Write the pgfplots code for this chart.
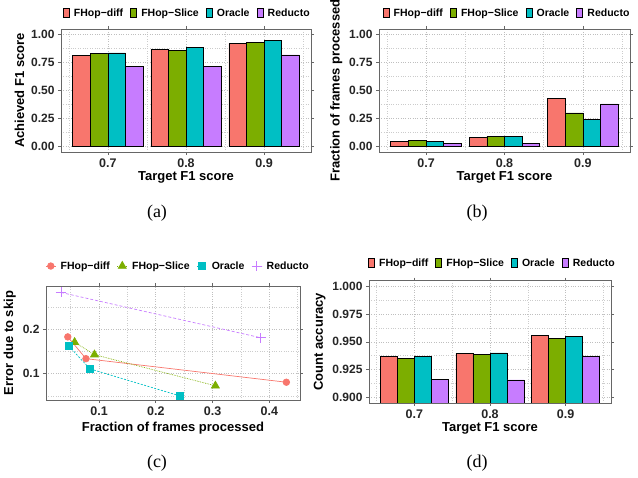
\documentclass[border=0pt]{standalone}
\usepackage{pgfplots}
\pgfplotsset{compat=1.18}
\usepackage{fontspec}
\setmainfont{Liberation Sans}
\newfontfamily\capfont{Liberation Serif}
\definecolor{cR}{HTML}{F8766D}
\definecolor{cG}{HTML}{7CAE00}
\definecolor{cB}{HTML}{00BFC4}
\definecolor{cP}{HTML}{C77CFF}
\pgfplotsset{
 gg/.style={
  scale only axis,
  axis line style={draw=black!60, line width=0.9pt},
  tick style={draw=black!60, line width=0.6pt},
  tick align=outside,
  major tick length=3pt,
  minor tick length=0pt,
  grid=both,
  major grid style={dotted, black!25, line width=0.6pt},
  minor grid style={dotted, black!20, line width=0.5pt},
  xticklabel style={font=\bfseries\fontsize{12.5}{13}\selectfont, text=black!85},
  yticklabel style={font=\bfseries\fontsize{12}{13}\selectfont, text=black!85},
  xlabel style={font=\bfseries\fontsize{13}{14}\selectfont},
  ylabel style={font=\bfseries\fontsize{13}{14}\selectfont},
  legend style={draw=none, fill=none, font=\bfseries\fontsize{10.5}{11}\selectfont, anchor=center,
    /tikz/every odd column/.append style={column sep=2.5pt},
    /tikz/every even column/.append style={column sep=5pt}},
  legend columns=4,
  legend cell align=left,
 },
 ggbar/.style={gg, ybar=0pt, bar width=0.225, xmin=0.4, xmax=3.6, xtick={1,2,3}, xticklabels={0.7,0.8,0.9}, minor xtick={0.5,1.5,2.5,3.5}, xlabel={Target F1 score}, xlabel style={yshift=2.5pt}},
 barleg/.style={legend image code/.code={\draw[##1, line width=0.6pt] (0pt,-4.5pt) rectangle (6pt,5pt);}},
 ptleg/.style={legend image code/.code={\draw[##1, mark repeat=2, mark phase=2] plot coordinates {(0pt,0pt) (5pt,0pt) (10pt,0pt)};}},
}
\begin{document}
\begin{tikzpicture}
\path[use as bounding box] (0,0) rectangle (638pt,-478pt);

% (a)
\begin{axis}[ggbar, at={(61pt,-29pt)}, anchor=north west, width=250pt, height=123pt,
  ymin=-0.05, ymax=1.05, ytick={0,0.25,0.5,0.75,1}, yticklabels={0.00,0.25,0.50,0.75,1.00},
  minor ytick={0.125,0.375,0.625,0.875}, ylabel={Achieved F1 score},
  legend style={at={(0.505,1.13)}}]
\addplot[barleg, fill=cR, draw=black, line width=0.6pt, bar shift=-0.3375] coordinates {(1,0.815) (2,0.866) (3,0.920)};
\addplot[barleg, fill=cG, draw=black, line width=0.6pt, bar shift=-0.1125] coordinates {(1,0.830) (2,0.857) (3,0.929)};
\addplot[barleg, fill=cB, draw=black, line width=0.6pt, bar shift=0.1125] coordinates {(1,0.836) (2,0.887) (3,0.949)};
\addplot[barleg, fill=cP, draw=black, line width=0.6pt, bar shift=0.3375] coordinates {(1,0.714) (2,0.714) (3,0.818)};
\legend{FHop−diff, FHop−Slice, Oracle, Reducto}
\end{axis}

% (b)
\begin{axis}[ggbar, at={(379pt,-29pt)}, anchor=north west, width=251pt, height=123pt,
  ymin=-0.05, ymax=1.05, ytick={0,0.25,0.5,0.75,1}, yticklabels={0.00,0.25,0.50,0.75,1.00},
  minor ytick={0.125,0.375,0.625,0.875}, ylabel={Fraction of frames processed},
  legend style={at={(0.51,1.13)}}]
\addplot[barleg, fill=cR, draw=black, line width=0.6pt, bar shift=-0.3375] coordinates {(1,0.042) (2,0.077) (3,0.426)};
\addplot[barleg, fill=cG, draw=black, line width=0.6pt, bar shift=-0.1125] coordinates {(1,0.057) (2,0.092) (3,0.300)};
\addplot[barleg, fill=cB, draw=black, line width=0.6pt, bar shift=0.1125] coordinates {(1,0.048) (2,0.086) (3,0.241)};
\addplot[barleg, fill=cP, draw=black, line width=0.6pt, bar shift=0.3375] coordinates {(1,0.030) (2,0.030) (3,0.381)};
\legend{FHop−diff, FHop−Slice, Oracle, Reducto}
\end{axis}

% (c)
\begin{axis}[gg, at={(46pt,-286pt)}, anchor=north west, width=254pt, height=114pt,
  xmin=0.0066, xmax=0.454, ymin=0.041, ymax=0.2975,
  xtick={0.1,0.2,0.3,0.4}, xticklabels={0.1,0.2,0.3,0.4}, minor xtick={0.05,0.15,0.25,0.35,0.45},
  ytick={0.1,0.2}, yticklabels={0.1,0.2}, minor ytick={0.05,0.15,0.25},
  xlabel={Fraction of frames processed}, ylabel={Error due to skip},
  legend style={at={(0.52,1.175)}}]
\addplot[ptleg, cR, line width=0.7pt, mark=*, mark size=3.3pt, mark options={solid}] coordinates {(0.045,0.183) (0.077,0.134) (0.430,0.081)};
\addplot[ptleg, cG, line width=0.7pt, densely dotted, mark=triangle*, mark size=4.6pt, mark options={solid}] coordinates {(0.057,0.171) (0.092,0.143) (0.305,0.073)};
\addplot[ptleg, cB, line width=0.7pt, dash pattern=on 2pt off 1.5pt, mark=square*, mark size=3.6pt, mark options={solid}] coordinates {(0.047,0.162) (0.084,0.111) (0.243,0.050)};
\addplot[ptleg, cP, line width=0.7pt, dash pattern=on 3pt off 2pt, mark=+, mark size=5pt, mark options={solid}] coordinates {(0.033,0.283) (0.033,0.283) (0.385,0.181)};
\legend{FHop−diff, FHop−Slice, Oracle, Reducto}
\end{axis}

% (d)
\begin{axis}[ggbar, at={(369pt,-280.7pt)}, anchor=north west, width=242pt, height=122.3pt,
  ymin=0.895, ymax=1.005, ytick={0.9,0.925,0.95,0.975,1}, yticklabels={0.900,0.925,0.950,0.975,1.000},
  minor ytick={0.9125,0.9375,0.9625,0.9875}, ylabel={Count accuracy},
  legend style={at={(0.51,1.145)}}]
\addplot[barleg, fill=cR, draw=black, line width=0.6pt, bar shift=-0.3375] coordinates {(1,0.9367) (2,0.9397) (3,0.9558)};
\addplot[barleg, fill=cG, draw=black, line width=0.6pt, bar shift=-0.1125] coordinates {(1,0.9349) (2,0.9385) (3,0.9534)};
\addplot[barleg, fill=cB, draw=black, line width=0.6pt, bar shift=0.1125] coordinates {(1,0.9367) (2,0.9400) (3,0.9552)};
\addplot[barleg, fill=cP, draw=black, line width=0.6pt, bar shift=0.3375] coordinates {(1,0.9164) (2,0.9158) (3,0.9370)};
\legend{FHop−diff, FHop−Slice, Oracle, Reducto}
\end{axis}

\node[font=\capfont\fontsize{18}{18}\selectfont] at (157pt,-213pt) {(a)};
\node[font=\capfont\fontsize{18}{18}\selectfont] at (477pt,-213pt) {(b)};
\node[font=\capfont\fontsize{18}{18}\selectfont] at (157pt,-463pt) {(c)};
\node[font=\capfont\fontsize{18}{18}\selectfont] at (477pt,-463pt) {(d)};
\end{tikzpicture}
\end{document}
